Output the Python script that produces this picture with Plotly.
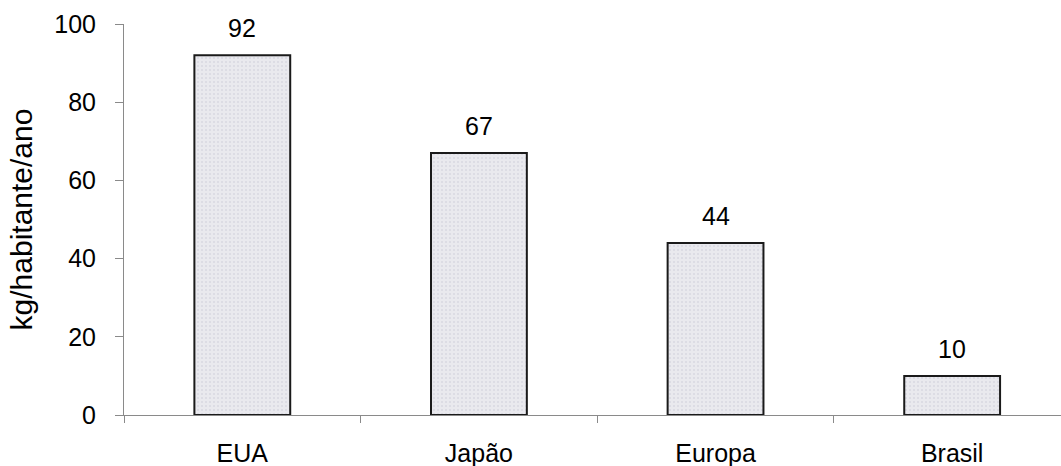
import plotly.graph_objects as go

# Consumo per capita por região
regioes = ["EUA", "Japão", "Europa", "Brasil"]
consumo = [92, 67, 44, 10]
y_ticks = [0, 20, 40, 60, 80, 100]

FONT = "Liberation Sans, Arial, sans-serif"

fig = go.Figure()

fig.add_trace(go.Bar(
    x=regioes,
    y=consumo,
    marker=dict(
        color="#e6e6ec",
        line=dict(color="#1a1a1a", width=2),
        pattern=dict(shape=".", fgcolor="#a8a8bc", bgcolor="#e9e9ee",
                     size=4, solidity=0.12),
    ),
    showlegend=False,
))

# Rótulos de valor acima de cada barra
for reg, val in zip(regioes, consumo):
    fig.add_annotation(
        x=reg, y=val, text=str(val),
        showarrow=False, yanchor="bottom", yshift=11,
        font=dict(family=FONT, size=25, color="#000"),
    )

fig.update_layout(
    width=1061, height=466,
    margin=dict(l=124, r=0, t=24, b=51),
    paper_bgcolor="white",
    plot_bgcolor="white",
    bargap=0.595,
    font=dict(family=FONT, color="#000"),
)

fig.update_xaxes(
    type="category",
    range=[-0.5, 3.46],
    automargin=False,
    showline=True, linecolor="#8a8a8a", linewidth=1,
    ticks="outside", tickson="boundaries", ticklen=7, tickcolor="#8a8a8a",
    ticklabelstandoff=16,
    tickfont=dict(family=FONT, size=25, color="#000"),
    showgrid=False, zeroline=False,
)

fig.update_yaxes(
    range=[0, 100],
    tickvals=y_ticks,
    automargin=False,
    showline=True, linecolor="#8a8a8a", linewidth=1,
    ticks="outside", ticklen=8, tickcolor="#8a8a8a",
    ticklabelstandoff=14,
    tickfont=dict(family=FONT, size=25, color="#000"),
    title=dict(text="kg/habitante/ano", standoff=12,
               font=dict(family=FONT, size=30, color="#000")),
    showgrid=False, zeroline=False,
)

fig.write_html("out.html")
